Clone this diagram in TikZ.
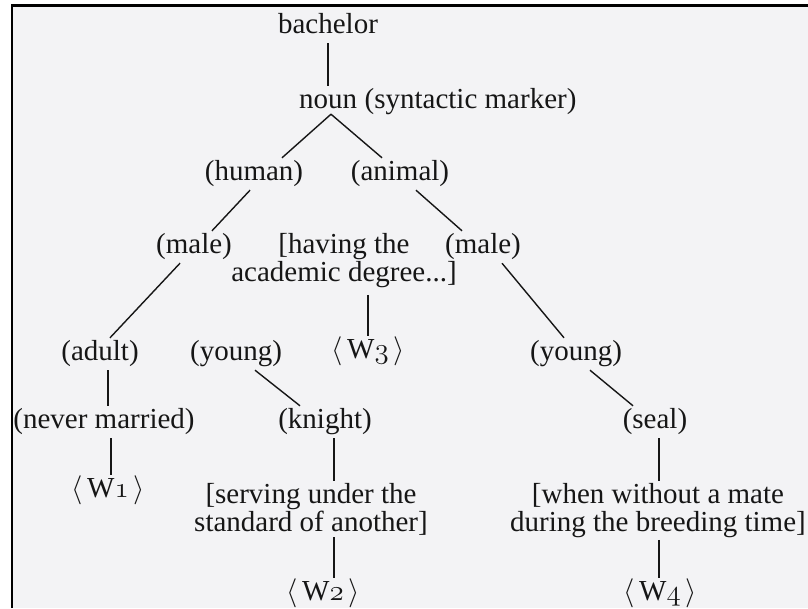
\RequirePackage{fix-cm}
\documentclass[tikz,border=0pt]{standalone}
\usepackage{fontspec}
\setmainfont{Liberation Serif}
\usetikzlibrary{calc}
\definecolor{ink}{RGB}{22,22,22}
\definecolor{paper}{RGB}{243,243,245}
\newcommand{\osn}[1]{{\usefont{OML}{lmm}{m}{it}#1}}
\newcommand{\wnode}[1]{$\langle$\,W\osn{#1}\,$\rangle$}
\begin{document}
\begin{tikzpicture}[x=1pt,y=-1pt,
  lbl/.style={inner xsep=0pt, inner ysep=2pt, text height=20pt, text depth=8pt,
    font=\fontsize{29}{28}\selectfont, text=ink, anchor=base},
  multi/.style={inner xsep=0pt, inner ysep=2pt, align=center,
    font=\fontsize{29}{28}\selectfont, text=ink, anchor=north},
  edge/.style={draw=ink, line width=1.4pt}]
\useasboundingbox (0,0) rectangle (808,608);
\fill[white] (0,0) rectangle (808,608);
\fill[paper] (12,5.5) rectangle (808,608);
\draw[black, line width=2.5pt] (12,608) -- (12,5.5) -- (808,5.5);

% nodes
\node[lbl] (bachelor) at (328,33) {bachelor};
\node[lbl] (noun) at (328,108) {noun};
\node[lbl, anchor=base west] (synt) at ($(noun.base east)+(7.25,0)$) {(syntactic marker)};
\node[lbl] (human) at (254,180) {(human)};
\node[lbl] (animal) at (400,180) {(animal)};
\node[lbl] (maleL) at (194,253) {(male)};
\node[multi] (having) at (344,231) {[having the\\academic degree...]};
\node[lbl] (maleR) at (483,253) {(male)};
\node[lbl] (adult) at (100,360) {(adult)};
\node[lbl] (youngL) at (236,360) {(young)};
\node[lbl] (W3) at (368,358) {\wnode{3}};
\node[lbl] (youngR) at (576,360) {(young)};
\node[lbl] (never) at (104,428) {(never married)};
\node[lbl] (knight) at (325,428) {(knight)};
\node[lbl] (seal) at (655,428) {(seal)};
\node[lbl] (W1) at (108,497) {\wnode{1}};
\node[multi] (serving) at (311,481) {[serving under the\\standard of another]};
\node[multi] (when) at (658,481) {[when without a mate\\during the breeding time]};
\node[lbl] (W2) at (323,600) {\wnode{2}};
\node[lbl] (W4) at (660,600) {\wnode{4}};

% connectors
\draw[edge] (bachelor) -- (noun);
\draw[edge] ([xshift=3pt,yshift=4pt]noun.south) -- ([xshift=28pt]human.north);
\draw[edge] ([xshift=3pt,yshift=4pt]noun.south) -- ([xshift=-18pt]animal.north);
\draw[edge] ([xshift=-4pt]human.south) -- ([xshift=18pt]maleL.north);
\draw[edge] ([xshift=16pt]animal.south) -- ([xshift=-21pt]maleR.north);
\draw[edge] ([xshift=-14pt]maleL.south) -- ([xshift=10pt]adult.north);
\draw[edge] ([xshift=19pt]maleR.south) -- ([xshift=-12pt]youngR.north);
\draw[edge] ([xshift=24pt,yshift=-5pt]having.south) -- (W3.north);
\draw[edge] ([xshift=8pt]adult.south) -- ([xshift=4pt]never.north);
\draw[edge] ([xshift=19pt]youngL.south) -- ([xshift=-25pt]knight.north);
\draw[edge] ([xshift=14pt]youngR.south) -- ([xshift=-22pt]seal.north);
\draw[edge] ([xshift=7pt]never.south) -- ([xshift=3pt]W1.north);
\draw[edge] ([xshift=9pt]knight.south) -- ([xshift=23pt]serving.north);
\draw[edge] ([xshift=23pt]serving.south) -- ([xshift=11pt]W2.north);
\draw[edge] ([xshift=4pt]seal.south) -- ([xshift=1pt]when.north);
\draw[edge] ([xshift=1pt]when.south) -- ([xshift=-1pt]W4.north);
\end{tikzpicture}
\end{document}
